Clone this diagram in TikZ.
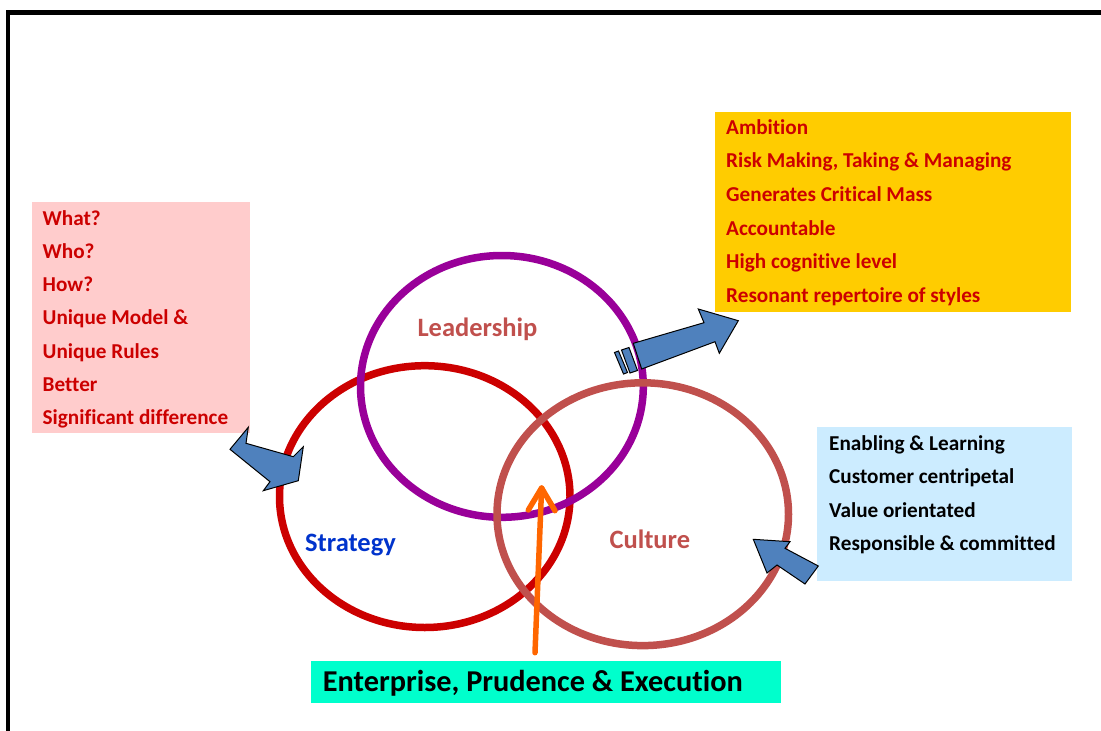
\documentclass[tikz,border=0pt]{standalone}
\usepackage{fontspec}
\setmainfont{Carlito}[Ligatures=NoCommon]
\usetikzlibrary{shapes.geometric}
\definecolor{ringred}{HTML}{CC0000}
\definecolor{ringpurple}{HTML}{990099}
\definecolor{ringbrown}{HTML}{C0504D}
\definecolor{labelblue}{HTML}{0033CC}
\definecolor{boxpink}{HTML}{FFCCCC}
\definecolor{boxyellow}{HTML}{FFCC00}
\definecolor{boxblue}{HTML}{CCECFF}
\definecolor{boxaqua}{HTML}{00FFCC}
\definecolor{arrowblue}{HTML}{4F81BD}
\definecolor{arroworange}{HTML}{FF6600}
\begin{document}
\begin{tikzpicture}[x=1pt,y=-1pt,
  boxtxt/.style={anchor=base west, inner sep=0pt, font=\fontsize{21.2}{25}\selectfont\bfseries},
  ringlabel/.style={anchor=base west, inner sep=0pt, font=\fontsize{26.5}{30}\selectfont\bfseries},
  ring/.style={ellipse, inner sep=0pt, line width=7.5pt},
  panel/.style={draw=none, inner sep=0pt, anchor=north west},
  blockarrow/.style={fill=arrowblue, draw=black, line width=1pt, line join=miter},
  pointer/.style={draw=arroworange, line width=5.5pt, line cap=round, line join=round}
]
\useasboundingbox (0,0) rectangle (1101,731);
% frame
\draw[line width=5pt] (6,12) -- (1101,12);
\draw[line width=4pt] (8,10) -- (8,731);

% boxes
\node[panel, fill=boxpink, minimum width=218pt, minimum height=231pt] (pinkbox) at (31.5,202) {};
\node[panel, fill=boxyellow, minimum width=356pt, minimum height=200pt] (yellowbox) at (715,111.7) {};
\node[panel, fill=boxblue, minimum width=255.5pt, minimum height=154pt] (bluebox) at (816.7,426.5) {};
\node[panel, fill=boxaqua, minimum width=470pt, minimum height=41.5pt] (aquabox) at (310.5,661) {};

% pink box text
\foreach \t [count=\i from 0] in {What?,Who?,How?,Unique Model \&,Unique Rules,Better,Significant difference}
  \node[boxtxt, text=ringred] (p\i) at (42.5,225+33.33*\i) {\t};
% yellow box text
\foreach \t [count=\i from 0] in {Ambition,{Risk Making, Taking \& Managing},Generates Critical Mass,Accountable,High cognitive level,Resonant repertoire of styles}
  \node[boxtxt, text=ringred] (y\i) at (726,134.3+33.6*\i) {\t};
% blue box text
\foreach \t [count=\i from 0] in {Enabling \& Learning,Customer centripetal,Value orientated,Responsible \& committed}
  \node[boxtxt, text=black] (b\i) at (829,450+33.5*\i) {\t};
% aqua box text
\node[anchor=base west, inner sep=0pt, font=\fontsize{30.3}{34}\selectfont\bfseries] (motto) at (322.7,691) {Enterprise, Prudence \& Execution};

% rings
\node[ring, draw=ringred, minimum width=290.5pt, minimum height=261.8pt] (strategy) at (424.75,496.6) {};
\node[ring, draw=ringpurple, minimum width=282.8pt, minimum height=261.8pt] (leadership) at (501.9,386.4) {};
\node[ring, draw=ringbrown, minimum width=291.5pt, minimum height=262.8pt] (culture) at (642.75,514.2) {};

% ring labels
\node[ringlabel, text=ringbrown] (leadlabel) at (417.3,336.7) {Leadership};
\node[ringlabel, text=labelblue] (stratlabel) at (305,551.7) {Strategy};
\node[ringlabel, text=ringbrown] (cultlabel) at (609.3,548.3) {Culture};

% striped arrow towards yellow box
\draw[blockarrow] (633.3,343.3) -- (704,322.7) -- (698.3,309) -- (738.3,320.7) -- (719.3,353.3) -- (715,341.7) -- (641.7,369) -- cycle;
\draw[blockarrow] (614.5,352.5) -- (618.5,351) -- (627.5,372.5) -- (623.5,374) -- cycle;
\draw[blockarrow] (621.5,350) -- (629,347.5) -- (637.5,370.5) -- (630,373) -- cycle;

% arrow from pink box to strategy
\draw[blockarrow] (230,449.3) -- (248.3,427.3) -- (246,443.3) -- (293.3,456.7) -- (303.3,446.7) -- (298.3,480.7) -- (263.3,490.7) -- (270,481.7) -- cycle;

% arrow from blue box to culture
\draw[blockarrow] (753.3,539.3) -- (790,541.7) -- (785,548.3) -- (818.3,566) -- (805,584) -- (777,565) -- (767,573) -- cycle;

% orange arrow
\coordinate (otail) at (535,652.7);
\coordinate (otip) at (541.6,488);
\draw[pointer] (otail) -- (otip);
\draw[pointer] (528.3,510) -- (otip) -- (555,510.7);
\end{tikzpicture}
\end{document}
